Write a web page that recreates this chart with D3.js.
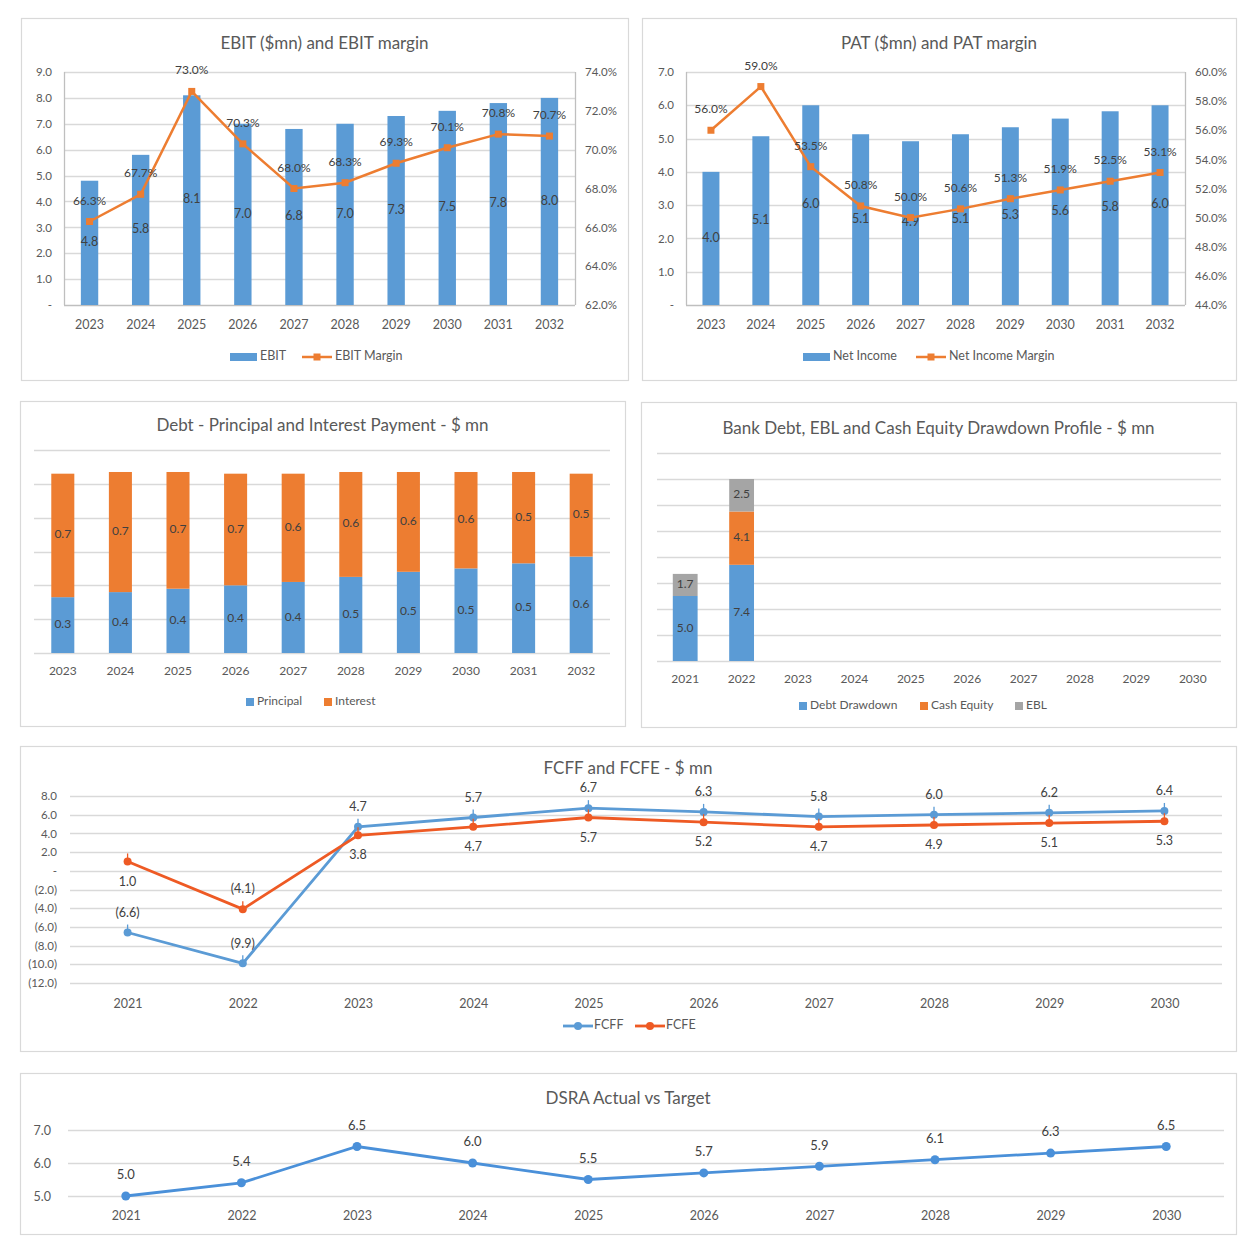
<!DOCTYPE html>
<html>
<head>
<meta charset="utf-8">
<script src="https://cdn.jsdelivr.net/npm/d3@7"></script>
<style>
  body { margin: 0; background: #fff; }
  text { font-family: Lato, "Open Sans", sans-serif; }
</style>
</head>
<body>
<svg id="chart" width="1254" height="1254"></svg>
<script>
// ---- data ----
const years23 = ["2023", "2024", "2025", "2026", "2027", "2028", "2029", "2030", "2031", "2032"];
const years21 = ["2021", "2022", "2023", "2024", "2025", "2026", "2027", "2028", "2029", "2030"];

const ebit = [4.8, 5.8, 8.1, 7.0, 6.8, 7.0, 7.3, 7.5, 7.8, 8.0];
const ebitMargin = [66.3, 67.7, 73.0, 70.3, 68.0, 68.3, 69.3, 70.1, 70.8, 70.7];

const netIncome = [4.0, 5.07, 6.0, 5.13, 4.92, 5.13, 5.34, 5.6, 5.82, 6.0];
const netIncomeMargin = [56.0, 59.0, 53.5, 50.8, 50.0, 50.6, 51.3, 51.9, 52.5, 53.1];

const principal = [0.33, 0.36, 0.38, 0.40, 0.42, 0.45, 0.48, 0.50, 0.53, 0.57];
const interest = [0.73, 0.71, 0.69, 0.66, 0.64, 0.62, 0.59, 0.57, 0.54, 0.49];

const debtDrawdown = [5.0, 7.4, 0, 0, 0, 0, 0, 0, 0, 0];
const cashEquity = [0, 4.1, 0, 0, 0, 0, 0, 0, 0, 0];
const eblDraw = [1.7, 2.5, 0, 0, 0, 0, 0, 0, 0, 0];

const fcff = [-6.6, -9.9, 4.7, 5.7, 6.7, 6.3, 5.8, 6.0, 6.2, 6.4];
const fcfe = [1.0, -4.1, 3.8, 4.7, 5.7, 5.2, 4.7, 4.9, 5.1, 5.3];

const dsra = [5.0, 5.4, 6.5, 6.0, 5.5, 5.7, 5.9, 6.1, 6.3, 6.5];

const BLUE = "#5B9BD5", ORANGE = "#ED7D31", GREY = "#A5A5A5", RED = "#EE5A24";
const GRID = "#d9d9d9", AXIS = "#bfbfbf", TXT = "#595959", LBL = "#404040";

const svg = d3.select("#chart");

// accounting style number: (2.0) for negatives, - for zero
const acct = d => Math.abs(d) < 1e-9 ? "-" : d < 0 ? `(${(-d).toFixed(1)})` : d.toFixed(1);

function panel(x, y, w, h, title, titleY) {
    const g = svg.append("g");
    g.append("rect")
        .attr("x", x + 0.5).attr("y", y + 0.5)
        .attr("width", w).attr("height", h)
        .attr("fill", "#fff")
        .attr("stroke", GRID)
        .attr("stroke-width", 1.2);
    g.append("text")
        .attr("x", x + w / 2).attr("y", titleY + 2)
        .attr("text-anchor", "middle")
        .attr("dominant-baseline", "middle")
        .attr("font-size", 17)
        .attr("fill", TXT)
        .text(title);
    return g;
}

function grid(g, y, ticks, x0, x1) {
    g.append("g").selectAll("line")
        .data(ticks).join("line")
        .attr("x1", x0).attr("x2", x1)
        .attr("y1", d => Math.round(y(d)) + 0.5)
        .attr("y2", d => Math.round(y(d)) + 0.5)
        .attr("stroke", GRID)
        .attr("stroke-width", 1.3);
}

function styleAxis(a, size, color) {
    a.select(".domain").remove();
    a.selectAll(".tick line").remove();
    a.selectAll("text")
        .attr("font-size", size)
        .attr("fill", color || TXT)
        .attr("font-family", "Lato, 'Open Sans', sans-serif");
}

function legendBox(g, x, y, color, label) {
    g.append("rect").attr("x", x).attr("y", y - 4).attr("width", 8).attr("height", 8).attr("fill", color);
    g.append("text").attr("x", x + 11).attr("y", y).attr("dominant-baseline", "middle")
        .attr("font-size", 12).attr("fill", TXT).text(label);
}

// ---- bar + margin line combo (EBIT / PAT) ----
function comboChart(c) {
    const g = panel(c.px, c.py, c.pw, c.ph, c.title, 43);
    const x = d3.scaleBand().domain(c.cats).range([c.x0, c.x1]).paddingInner(0.66).paddingOuter(0.33);
    const y = d3.scaleLinear().domain([0, c.yMax]).range([c.yB, c.yT]);
    const y2 = d3.scaleLinear().domain(c.y2Dom).range([c.yB, c.yT]);

    grid(g, y, d3.range(1, c.yMax + 0.01, 1), c.x0, c.x1);
    // axis lines
    g.append("line").attr("x1", c.x0).attr("x2", c.x1).attr("y1", c.yB + 0.5).attr("y2", c.yB + 0.5).attr("stroke", AXIS).attr("stroke-width", 1.3);
    g.append("line").attr("x1", c.x0 + 0.5).attr("x2", c.x0 + 0.5).attr("y1", c.yT).attr("y2", c.yB).attr("stroke", AXIS).attr("stroke-width", 1.3);
    g.append("line").attr("x1", c.x1 + 0.5).attr("x2", c.x1 + 0.5).attr("y1", c.yT).attr("y2", c.yB).attr("stroke", AXIS).attr("stroke-width", 1.3);

    const left = g.append("g").attr("transform", `translate(${c.x0 - 4},0)`)
        .call(d3.axisLeft(y).tickValues(d3.range(0, c.yMax + 0.01, 1)).tickFormat(acct).tickSize(0).tickPadding(8));
    styleAxis(left, 11.5);
    const right = g.append("g").attr("transform", `translate(${c.x1 + 2},0)`)
        .call(d3.axisRight(y2).tickValues(d3.range(c.y2Dom[0], c.y2Dom[1] + 0.01, 2)).tickFormat(d => d.toFixed(1) + "%").tickSize(0).tickPadding(8));
    styleAxis(right, 11.5);
    const bottom = g.append("g").attr("transform", `translate(0,${c.yB})`)
        .call(d3.axisBottom(x).tickSize(0).tickPadding(15));
    styleAxis(bottom, 12.5);

    const rows = c.cats.map((k, i) => ({ k, v: c.bars[i], m: c.margin[i] }));

    g.append("g").selectAll("rect").data(rows).join("rect")
        .attr("x", d => x(d.k)).attr("width", x.bandwidth())
        .attr("y", d => y(d.v)).attr("height", d => y(0) - y(d.v))
        .attr("fill", BLUE);

    g.append("g").selectAll("text").data(rows).join("text")
        .attr("x", d => x(d.k) + x.bandwidth() / 2)
        .attr("y", d => y(d.v / 2))
        .attr("text-anchor", "middle").attr("dominant-baseline", "middle")
        .attr("font-size", 12.5).attr("fill", LBL)
        .text(d => d.v.toFixed(1));

    const cx = d => x(d.k) + x.bandwidth() / 2;
    g.append("path").datum(rows)
        .attr("d", d3.line().x(cx).y(d => y2(d.m)))
        .attr("fill", "none").attr("stroke", ORANGE).attr("stroke-width", 2.5);
    g.append("g").selectAll("rect").data(rows).join("rect")
        .attr("x", d => cx(d) - 3.5).attr("y", d => y2(d.m) - 3.5)
        .attr("width", 7).attr("height", 7).attr("fill", ORANGE);
    g.append("g").selectAll("text").data(rows).join("text")
        .attr("x", cx).attr("y", d => y2(d.m) - 20)
        .attr("text-anchor", "middle").attr("dominant-baseline", "middle")
        .attr("font-size", 12).attr("fill", LBL)
        .text(d => d.m.toFixed(1) + "%");

    // legend
    const ly = 357;
    g.append("rect").attr("x", c.leg[0]).attr("y", ly - 4).attr("width", 27).attr("height", 8).attr("fill", BLUE);
    g.append("text").attr("x", c.leg[0] + 30).attr("y", ly).attr("dominant-baseline", "middle")
        .attr("font-size", 12.5).attr("fill", TXT).text(c.names[0]);
    g.append("line").attr("x1", c.leg[1]).attr("x2", c.leg[1] + 30).attr("y1", ly).attr("y2", ly)
        .attr("stroke", ORANGE).attr("stroke-width", 2.5);
    g.append("rect").attr("x", c.leg[1] + 11.5).attr("y", ly - 3.5).attr("width", 7).attr("height", 7).attr("fill", ORANGE);
    g.append("text").attr("x", c.leg[1] + 33).attr("y", ly).attr("dominant-baseline", "middle")
        .attr("font-size", 12.5).attr("fill", TXT).text(c.names[1]);
}

comboChart({
    px: 21, py: 18, pw: 607, ph: 362, title: "EBIT ($mn) and EBIT margin",
    cats: years23, bars: ebit, margin: ebitMargin,
    x0: 64, x1: 575, yT: 72, yB: 305, yMax: 9, y2Dom: [62, 74],
    leg: [230, 302], names: ["EBIT", "EBIT Margin"]
});

comboChart({
    px: 642, py: 18, pw: 594, ph: 362, title: "PAT ($mn) and PAT margin",
    cats: years23, bars: netIncome, margin: netIncomeMargin,
    x0: 686, x1: 1185, yT: 72, yB: 305, yMax: 7, y2Dom: [44, 60],
    leg: [803, 916], names: ["Net Income", "Net Income Margin"]
});

// ---- stacked bar charts ----
function stackedChart(c) {
    const g = panel(c.px, c.py, c.pw, c.ph, c.title, c.titleY);
    const x = d3.scaleBand().domain(c.cats).range([c.x0, c.x1]).paddingInner(c.pad).paddingOuter(c.pad / 2);
    const y = d3.scaleLinear().domain([0, c.yMax]).range([c.yB, c.yT]);
    grid(g, y, d3.range(0, c.yMax + 1e-6, c.step), c.x0, c.x1);

    const rows = c.cats.map((k, i) => {
        const r = { k };
        c.keys.forEach((key, j) => r[key] = c.series[j][i]);
        return r;
    });
    const stacked = d3.stack().keys(c.keys)(rows);

    const layer = g.append("g").selectAll("g").data(stacked).join("g")
        .attr("fill", (d, i) => c.colors[i]);
    layer.selectAll("rect").data(d => d).join("rect")
        .attr("x", d => x(d.data.k)).attr("width", x.bandwidth())
        .attr("y", d => y(d[1])).attr("height", d => y(d[0]) - y(d[1]));
    layer.selectAll("text").data(d => d.filter(p => p[1] - p[0] > 0)).join("text")
        .attr("x", d => x(d.data.k) + x.bandwidth() / 2)
        .attr("y", d => y((d[0] + d[1]) / 2))
        .attr("text-anchor", "middle").attr("dominant-baseline", "middle")
        .attr("font-size", 12).attr("fill", LBL)
        .text(d => (d[1] - d[0]).toFixed(1));

    const bottom = g.append("g").attr("transform", `translate(0,${c.yB})`)
        .call(d3.axisBottom(x).tickSize(0).tickPadding(13));
    styleAxis(bottom, 12);

    c.keys.forEach((key, i) => legendBox(g, c.leg[i], c.legY, c.colors[i], c.names[i]));
}

stackedChart({
    px: 20, py: 401, pw: 605, ph: 325, title: "Debt - Principal and Interest Payment - $ mn", titleY: 425,
    cats: years23, keys: ["principal", "interest"], series: [principal, interest],
    colors: [BLUE, ORANGE], names: ["Principal", "Interest"],
    x0: 34, x1: 610, yT: 450, yB: 653, yMax: 1.2, step: 0.2, pad: 0.6,
    leg: [246, 324], legY: 702
});

stackedChart({
    px: 641, py: 402, pw: 595, ph: 325, title: "Bank Debt, EBL and Cash Equity Drawdown Profile - $ mn", titleY: 428,
    cats: years21, keys: ["debt", "equity", "ebl"], series: [debtDrawdown, cashEquity, eblDraw],
    colors: [BLUE, ORANGE, GREY], names: ["Debt Drawdown", "Cash Equity", "EBL"],
    x0: 657, x1: 1221, yT: 453, yB: 661, yMax: 16, step: 2, pad: 0.56,
    leg: [799, 920, 1015], legY: 706
});

// ---- FCFF and FCFE ----
(function () {
    const g = panel(20, 746, 1216, 305, "FCFF and FCFE - $ mn", 768);
    const x0 = 70, x1 = 1222;
    const x = d3.scalePoint().domain(years21).range([x0, x1]).padding(0.5);
    const y = d3.scaleLinear().domain([-12, 8]).range([983, 796]);
    grid(g, y, d3.range(-12, 8.01, 2), x0, x1);

    const left = g.append("g").attr("transform", `translate(${57},0)`)
        .call(d3.axisLeft(y).tickValues(d3.range(-12, 8.01, 2)).tickFormat(acct).tickSize(0).tickPadding(0));
    styleAxis(left, 11.5);
    const bottom = g.append("g").attr("transform", `translate(0,983)`)
        .call(d3.axisBottom(x).tickSize(0).tickPadding(16));
    styleAxis(bottom, 12.5);

    const series = [
        { name: "FCFF", color: BLUE, vals: fcff },
        { name: "FCFE", color: RED, vals: fcfe }
    ];
    series.forEach((s, si) => {
        const pts = years21.map((k, i) => ({ k, v: s.vals[i] }));
        g.append("path").datum(pts)
            .attr("d", d3.line().x(d => x(d.k)).y(d => y(d.v)))
            .attr("fill", "none").attr("stroke", s.color).attr("stroke-width", 2.8);
        g.append("g").selectAll("circle").data(pts).join("circle")
            .attr("cx", d => x(d.k)).attr("cy", d => y(d.v)).attr("r", 4).attr("fill", s.color);
        g.append("g").selectAll("line").data(pts).join("line")
            .attr("x1", d => x(d.k)).attr("x2", d => x(d.k))
            .attr("y1", d => y(d.v) - 8).attr("y2", d => y(d.v))
            .attr("stroke", s.color).attr("stroke-width", 1.3);
        // FCFF labels sit above; FCFE below, except the 2022 dip which is labelled above
        g.append("g").selectAll("text").data(pts).join("text")
            .attr("x", d => x(d.k))
            .attr("y", d => y(d.v) + ((si === 0 || d.k === "2022") ? -19 : 21))
            .attr("text-anchor", "middle").attr("dominant-baseline", "middle")
            .attr("font-size", 12.5).attr("fill", LBL)
            .text(d => acct(d.v));
        const lx = 563 + si * 72, ly = 1026;
        g.append("line").attr("x1", lx).attr("x2", lx + 30).attr("y1", ly).attr("y2", ly)
            .attr("stroke", s.color).attr("stroke-width", 2.8);
        g.append("circle").attr("cx", lx + 15).attr("cy", ly).attr("r", 4).attr("fill", s.color);
        g.append("text").attr("x", lx + 31).attr("y", ly).attr("dominant-baseline", "middle")
            .attr("font-size", 12.5).attr("fill", TXT).text(s.name);
    });
})();

// ---- DSRA ----
(function () {
    const g = panel(20, 1073, 1216, 161, "DSRA Actual vs Target", 1098);
    const x0 = 68, x1 = 1224;
    const x = d3.scalePoint().domain(years21).range([x0, x1]).padding(0.5);
    const y = d3.scaleLinear().domain([5, 7]).range([1196, 1130]);
    grid(g, y, [5, 6, 7], x0, x1);

    const left = g.append("g").attr("transform", `translate(${51},0)`)
        .call(d3.axisLeft(y).tickValues([5, 6, 7]).tickFormat(d => d.toFixed(1)).tickSize(0).tickPadding(0));
    styleAxis(left, 12.5);
    const bottom = g.append("g").attr("transform", `translate(0,1196)`)
        .call(d3.axisBottom(x).tickSize(0).tickPadding(15));
    styleAxis(bottom, 12.5);

    const pts = years21.map((k, i) => ({ k, v: dsra[i] }));
    g.append("path").datum(pts)
        .attr("d", d3.line().x(d => x(d.k)).y(d => y(d.v)))
        .attr("fill", "none").attr("stroke", "#4A90D9").attr("stroke-width", 2.8);
    g.append("g").selectAll("circle").data(pts).join("circle")
        .attr("cx", d => x(d.k)).attr("cy", d => y(d.v)).attr("r", 4.5).attr("fill", "#4A90D9");
    g.append("g").selectAll("text").data(pts).join("text")
        .attr("x", d => x(d.k)).attr("y", d => y(d.v) - 20)
        .attr("text-anchor", "middle").attr("dominant-baseline", "middle")
        .attr("font-size", 13).attr("fill", LBL)
        .text(d => d.v.toFixed(1));
})();
</script>
</body>
</html>
